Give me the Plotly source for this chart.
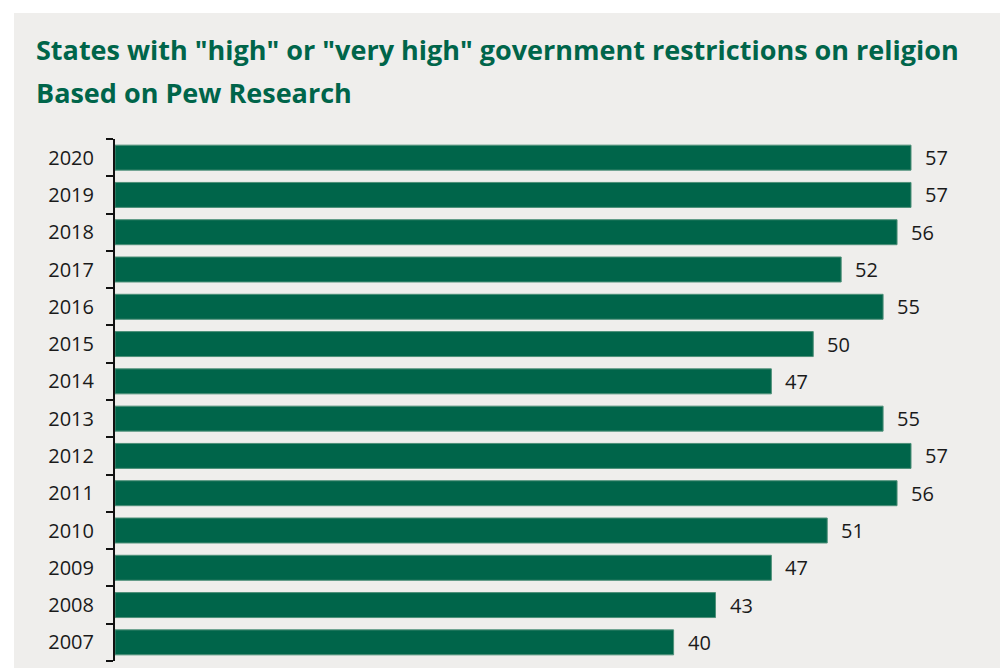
import plotly.graph_objects as go

years = ["2007", "2008", "2009", "2010", "2011", "2012", "2013", "2014",
         "2015", "2016", "2017", "2018", "2019", "2020"]
values = [40, 43, 47, 51, 56, 57, 55, 47, 50, 55, 52, 56, 57, 57]

title_line1 = 'States with "high" or "very high" government restrictions on religion'
title_line2 = "Based on Pew Research"

GREEN = "#00654A"
BG = "#EFEEEC"
W, H = 1000, 668
L, R, T, B = 115, 0, 139, 7
pw, ph = W - L - R, H - T - B
px_per_unit = 13.965
xmax = pw / px_per_unit

fig = go.Figure()
fig.add_trace(go.Bar(
    x=values, y=years, orientation="h",
    marker=dict(color=GREEN, line=dict(color="#4E9079", width=1)),
    hoverinfo="skip",
))

annotations = []
for i, v in enumerate(values):
    annotations.append(dict(x=v, y=i, xref="x", yref="y", text=str(v),
                            showarrow=False, xanchor="left", yanchor="middle",
                            xshift=12, font=dict(family="Open Sans", size=20, color="#1a1a1a")))

def px_x(p):
    return (p - L) / pw

def px_y(p):
    return (H - B - p) / ph

annotations.append(dict(x=px_x(34), y=px_y(49), xref="paper", yref="paper",
                        text="<b>" + title_line1 + "</b>", showarrow=False,
                        xanchor="left", yanchor="middle",
                        font=dict(family="Open Sans", size=27, color=GREEN)))
annotations.append(dict(x=px_x(34), y=px_y(93), xref="paper", yref="paper",
                        text="<b>" + title_line2 + "</b>", showarrow=False,
                        xanchor="left", yanchor="middle",
                        font=dict(family="Open Sans", size=27, color=GREEN)))

fig.update_layout(
    width=W, height=H,
    margin=dict(l=L, r=R, t=T, b=B, pad=0),
    paper_bgcolor="white",
    plot_bgcolor=BG,
    bargap=0.33,
    showlegend=False,
    annotations=annotations,
    shapes=[dict(type="rect", xref="paper", yref="paper", layer="below",
                 x0=px_x(14), x1=px_x(W + 5), y0=px_y(H + 5), y1=px_y(13),
                 fillcolor=BG, line=dict(width=0))],
    xaxis=dict(range=[0, xmax], visible=False, fixedrange=True),
    yaxis=dict(type="category", categoryorder="array", categoryarray=years,
               range=[-0.5, len(years) - 0.5], autorange=False,
               showline=True, linecolor="#111", linewidth=2,
               ticks="outside", ticklen=7, tickcolor="#111", tickwidth=2,
               tickson="boundaries", showgrid=False, zeroline=False,
               tickfont=dict(family="Open Sans", size=20, color="#1a1a1a"),
               ticklabelstandoff=15, fixedrange=True),
)

fig.write_html("out.html", config={"displayModeBar": False},
               post_script="document.body.style.margin='0';")
